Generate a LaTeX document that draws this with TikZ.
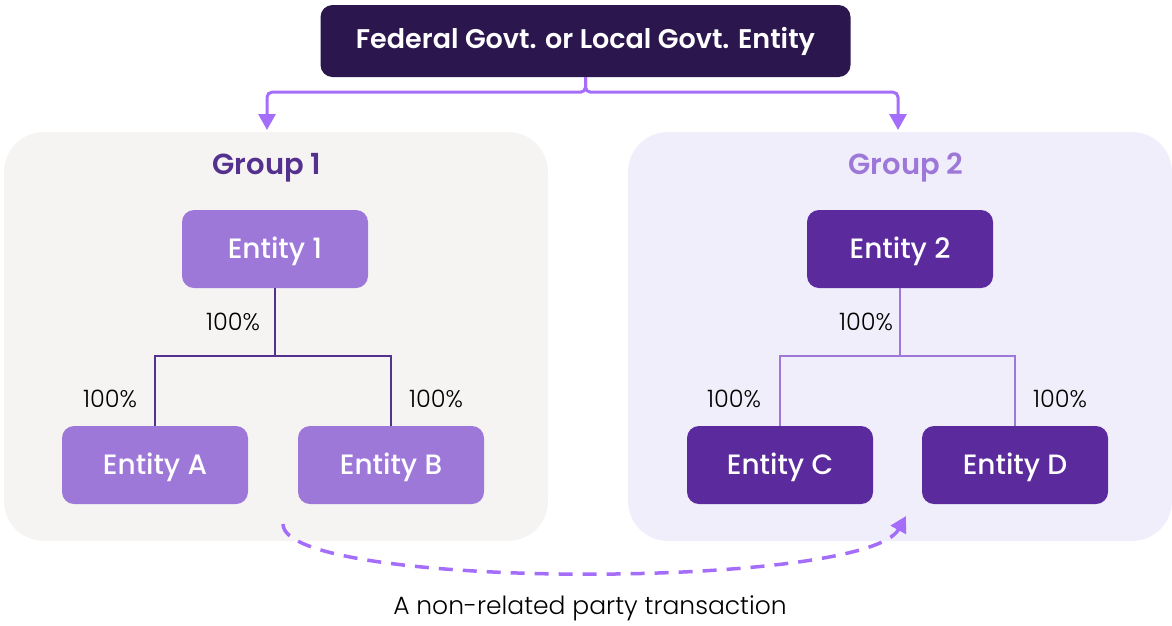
\documentclass[tikz,border=0pt]{standalone}
\usepackage{fontspec}
\setmainfont{Poppins}
\newfontfamily\medfont{Poppins Medium}
\newfontfamily\lightfont{Poppins Light}
\newfontfamily\semifont{Poppins SemiBold}
\usepackage{tikz}
\usetikzlibrary{arrows.meta,positioning,calc}

\definecolor{navy}{HTML}{2B164E}
\definecolor{greybg}{HTML}{F6F4F3}
\definecolor{lilacbg}{HTML}{F1EEFC}
\definecolor{lightent}{HTML}{9E78D9}
\definecolor{darkent}{HTML}{5B2A9C}
\definecolor{deeppurp}{HTML}{54308F}
\definecolor{arrowpurp}{HTML}{A46EFA}

\tikzset{
  grp/.style={rounded corners=40, minimum width=544, minimum height=409, inner sep=0},
  grptitle/.style={font=\fontsize{29}{32}\selectfont\semifont},
  ent/.style={rounded corners=12, minimum width=186, minimum height=78, inner sep=0, text=white,
    text height=21, text depth=3, font=\fontsize{28}{32}\selectfont\medfont},
  pct/.style={font=\fontsize{24}{28}\selectfont\lightfont, inner sep=0},
  feed/.style={arrowpurp, line width=3, rounded corners=5, -{Triangle[width=17,length=16]}},
}

\begin{document}
\begin{tikzpicture}[x=1pt, y=-1pt]
\useasboundingbox (0,0) rectangle (1172,625);
% the two groups
\node[grp, fill=greybg] (grp1) at (276,336.5) {};
\node[grp, fill=lilacbg] (grp2) at (900,336.5) {};
\node[grptitle, text=deeppurp] (g1title) at (267,168) {Group 1};
\node[grptitle, text=lightent] (g2title) at (906,168) {Group 2};

% parent entity on top
\node[fill=navy, rounded corners=12, minimum width=530, minimum height=72, text=white,
      font=\fontsize{27}{30}\selectfont\semifont] (fed) at (585.5,41) {Federal Govt. or Local Govt. Entity};
\coordinate (in1) at (267,130); \coordinate (in2) at (898,130);
\draw[feed] (fed.south) -- ++(0,15) -| (in1);
\draw[feed] (fed.south) -- ++(0,15) -| (in2);

% group 1 entities
\node[ent, fill=lightent] (e1) at (275,249) {Entity 1};
\node[ent, fill=lightent] (ea) at (155,465) {Entity A};
\node[ent, fill=lightent] (eb) at (391,465) {Entity B};
\draw[deeppurp, line width=2] (e1.south) -- ++(0,68) coordinate (j1);
\draw[deeppurp, line width=2] (ea.north) |- (j1) -| (eb.north);

% group 2 entities
\node[ent, fill=darkent] (e2) at (900,249) {Entity 2};
\node[ent, fill=darkent] (ec) at (780,465) {Entity C};
\node[ent, fill=darkent] (ed) at (1015,465) {Entity D};
\draw[lightent, line width=2] (e2.south) -- ++(0,68) coordinate (j2);
\draw[lightent, line width=2] (ec.north) |- (j2) -| (ed.north);

% ownership shares
\foreach \n/\x/\y in {p1/233/322, pa/110/399, pb/436/399, p2/866/322, pc/734/399, pd/1060/399}
  \node[pct] (\n) at (\x,\y) {100\%};

% transaction between groups
\coordinate (tfrom) at (283,524); \coordinate (tto) at (906,516);
\draw[arrowpurp, line width=3.5, dash pattern=on 14 off 10, -{Triangle[width=17,length=16]}]
  (tfrom) .. controls (283,590) and (865,590) .. (tto);
\node[font=\fontsize{25}{29}\selectfont\lightfont] (tlabel) at (590,608) {A non-related party transaction};
\end{tikzpicture}
\end{document}
